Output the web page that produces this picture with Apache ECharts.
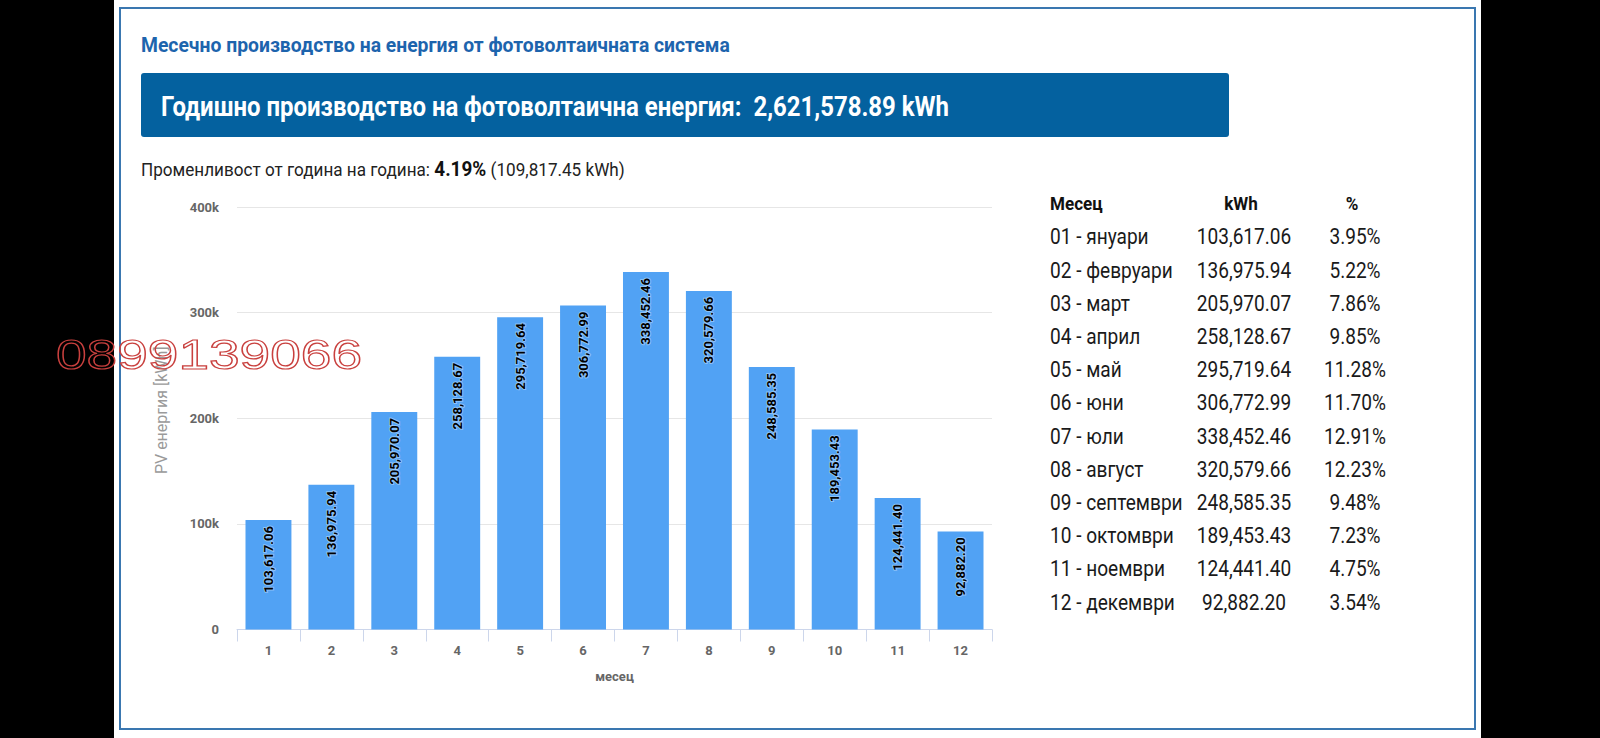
<!DOCTYPE html>
<html>
<head>
<meta charset="utf-8">
<script src="https://cdn.jsdelivr.net/npm/echarts@6/dist/echarts.min.js"></script>
<style>
html,body{margin:0;padding:0;background:#000;}
#c{width:1600px;height:738px;}
</style>
</head>
<body>
<div id="c"></div>
<script>
// ---- data ----
const categories = ['1','2','3','4','5','6','7','8','9','10','11','12'];
const monthNames = ['01 - януари','02 - февруари','03 - март','04 - април','05 - май','06 - юни','07 - юли','08 - август','09 - септември','10 - октомври','11 - ноември','12 - декември'];
const energy = [103617.06,136975.94,205970.07,258128.67,295719.64,306772.99,338452.46,320579.66,248585.35,189453.43,124441.40,92882.20];
const shares = [3.95,5.22,7.86,9.85,11.28,11.70,12.91,12.23,9.48,7.23,4.75,3.54];
const yearTotal = 2621578.89;
const variabilityPct = 4.19;
const variabilityKwh = 109817.45;

const FONT = 'Roboto,"Noto Sans",sans-serif';
const fmt = v => v.toLocaleString('en-US',{minimumFractionDigits:2,maximumFractionDigits:2});

// text width measurement, used to condense Roboto to the reference's narrow face
const mctx = document.createElement('canvas').getContext('2d');
function tw(text, font){ mctx.font = font; return mctx.measureText(text).width; }

const chart = echarts.init(document.getElementById('c'), null, {renderer:'svg', width:1600, height:738});

function ctext(x, y, text, font, fill, align, sx, extra){
  return {type:'text', x:x, y:y, scaleX:sx, scaleY:1, originX:0, originY:0,
    style:Object.assign({x:0, y:0, text:text, font:font, fill:fill, textAlign:align||'left', textVerticalAlign:'middle'}, extra||{})};
}

const titleText = 'Месечно производство на енергия от фотоволтаичната система';
const titleFont = 'bold 21px '+FONT;
const bannerText = 'Годишно производство на фотоволтаична енергия:  '+fmt(yearTotal)+' kWh';
const bannerFont = 'bold 28px '+FONT;
const subA = 'Променливост от година на година: ';
const subB = variabilityPct.toFixed(2)+'%';
const subC = ' ('+fmt(variabilityKwh)+' kWh)';
const subN = '19px '+FONT, subBF = 'bold 21px '+FONT;
const subW = tw(subA,subN)+tw(subB,subBF)+tw(subC,subN);
const rowFont = '22px '+FONT;
const rowScale = 94.7 / tw('103,617.06', rowFont);
const headFont = 'bold 19px '+FONT;
const headScale = 52.7 / tw('Месец', headFont);

const graphics = [
  {type:'rect', silent:true, z:-10, shape:{x:114,y:0,width:1367,height:738}, style:{fill:'#fff'}},
  {type:'rect', silent:true, z:-9, shape:{x:120,y:8,width:1355,height:721}, style:{fill:'none',stroke:'#3a77b0',lineWidth:2}},
  ctext(141, 45, titleText, titleFont, '#1d64ad', 'left', 589/tw(titleText,titleFont)),
  {type:'rect', shape:{x:141,y:73,width:1088,height:64,r:3}, style:{fill:'#04619f'}},
  ctext(161, 106, bannerText, bannerFont, '#fff', 'left', 788/tw(bannerText,bannerFont)),
  ctext(141, 169, '{n|'+subA+'}{b|'+subB+'}{n|'+subC+'}', subN, '#222', 'left', 484/subW,
    {rich:{n:{font:subN, fill:'#222'}, b:{font:subBF, fill:'#111'}}}),
  ctext(1050, 203, 'Месец', headFont, '#111', 'left', headScale),
  ctext(1241, 203, 'kWh', headFont, '#111', 'center', headScale),
  ctext(1352, 203, '%', headFont, '#111', 'center', headScale)
];
monthNames.forEach((m,i)=>{
  const y = 237 + i*33.2;
  graphics.push(ctext(1050, y, m, rowFont, '#1a1a1a', 'left', rowScale));
  graphics.push(ctext(1244, y, fmt(energy[i]), rowFont, '#1a1a1a', 'center', rowScale));
  graphics.push(ctext(1355, y, shares[i].toFixed(2)+'%', rowFont, '#1a1a1a', 'center', rowScale));
});
// watermark
const wmFont = '43px "Liberation Sans",Arial,sans-serif';
graphics.push(Object.assign(ctext(56, 354, '0899139066', wmFont, 'rgba(255,255,255,0)', 'left', 306/tw('0899139066', wmFont),
  {stroke:'#c9403e', lineWidth:1.2}), {z:100}));

chart.setOption({
  animation:false,
  backgroundColor:'transparent',
  textStyle:{fontFamily:FONT},
  grid:{left:237, right:608, top:207, bottom:108.5, containLabel:false},
  xAxis:{
    type:'category', data:categories,
    name:'месец', nameLocation:'middle', nameGap:40,
    nameTextStyle:{color:'#666', fontWeight:'bold', fontSize:13, fontFamily:FONT},
    axisLine:{lineStyle:{color:'#ccd6eb', width:1}},
    axisTick:{show:true, alignWithLabel:false, length:12, lineStyle:{color:'#ccd6eb'}},
    axisLabel:{color:'#666', fontWeight:'bold', fontSize:13, margin:14, fontFamily:FONT}
  },
  yAxis:{
    type:'value', min:0, max:400000, interval:100000,
    name:'PV енергия [kWh]', nameLocation:'middle', nameGap:68, nameRotate:90,
    nameTextStyle:{color:'#9a9a9a', fontSize:16, fontFamily:FONT, padding:[0,0,0,16]},
    axisLine:{show:false}, axisTick:{show:false},
    splitLine:{lineStyle:{color:'#e6e6e6'}},
    axisLabel:{color:'#666', fontWeight:'bold', fontSize:13, margin:18, fontFamily:FONT,
      formatter: v => v===0 ? '0' : (v/1000)+'k'}
  },
  series:[{
    type:'bar', data:energy, barCategoryGap:'27%',
    itemStyle:{color:'#51a2f4'},
    label:{show:true, position:'insideTop', rotate:90, align:'right', verticalAlign:'middle', distance:6,
      formatter: p => fmt(p.value), color:'#000', fontWeight:'bold', fontSize:13, fontFamily:FONT,
      textBorderColor:'rgba(255,255,255,0.35)', textBorderWidth:2}
  }],
  graphic: graphics
});
</script>
</body>
</html>
